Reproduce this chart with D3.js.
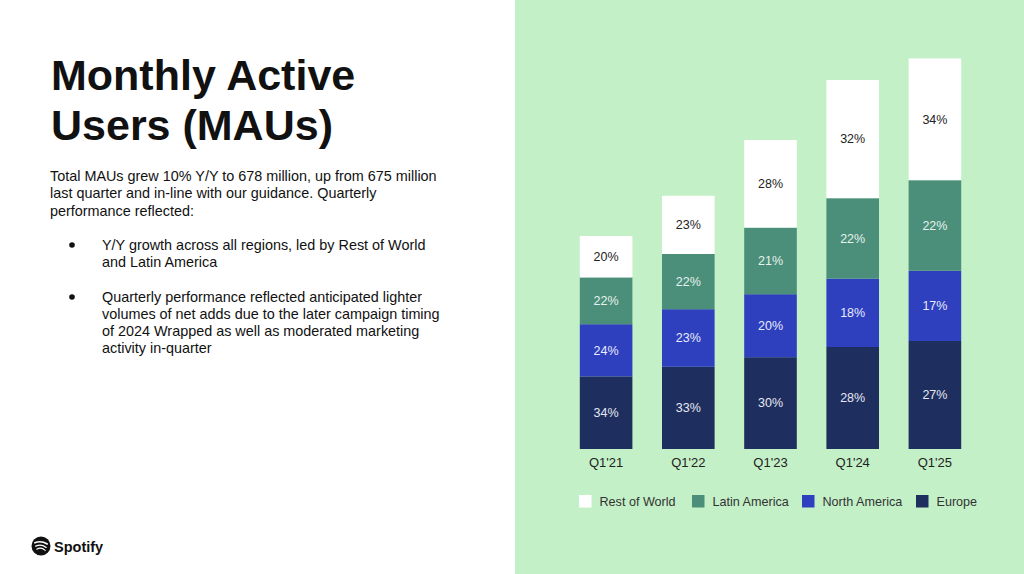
<!DOCTYPE html>
<html>
<head>
<meta charset="utf-8">
<script src="https://cdn.jsdelivr.net/npm/d3@7"></script>
<style>
  html, body { margin: 0; padding: 0; background: #fff; }
  svg { display: block; font-family: "Liberation Sans", Arial, sans-serif; }
</style>
</head>
<body>
<script>
const w = 1024;
const h = 574;

// * DATA (millions of MAUs per region)
const quarters = ["Q1'21", "Q1'22", "Q1'23", "Q1'24", "Q1'25"];
const regions = ["Rest of World", "Latin America", "North America", "Europe"];
const europe = [121, 137, 153, 170, 180];
const northAmerica = [87, 96, 105, 114, 117];
const latinAmerica = [78, 92, 111, 134, 151];
const restOfWorld = [69, 97, 146, 197, 203];
// percentage labels printed on the segments
const europePct = ["34%", "33%", "30%", "28%", "27%"];
const northAmericaPct = ["24%", "23%", "20%", "18%", "17%"];
const latinAmericaPct = ["22%", "22%", "21%", "22%", "22%"];
const restOfWorldPct = ["20%", "23%", "28%", "32%", "34%"];

const colors = {
	"Rest of World": "#ffffff",
	"Latin America": "#4b8f7b",
	"North America": "#2e40bd",
	"Europe": "#1e2e5f",
};
const labelColors = {
	"Rest of World": "#222222",
	"Latin America": "#e6f2ec",
	"North America": "#e8ebff",
	"Europe": "#e6e9f2",
};

const rows = quarters.map((q, i) => ({
	quarter: q,
	"Europe": europe[i],
	"North America": northAmerica[i],
	"Latin America": latinAmerica[i],
	"Rest of World": restOfWorld[i],
}));
const pct = {
	"Europe": europePct,
	"North America": northAmericaPct,
	"Latin America": latinAmericaPct,
	"Rest of World": restOfWorldPct,
};

const svg = d3.select("body").append("svg").attr("width", w).attr("height", h);

// * PANELS
svg.append("rect").attr("width", w).attr("height", h).attr("fill", "#ffffff");
svg.append("rect").attr("x", 515).attr("y", 0).attr("width", w - 515).attr("height", h).attr("fill", "#c4f0c8");

// * LEFT TEXT
const title = svg.append("text").attr("x", 51).attr("font-size", 43).attr("font-weight", "bold").attr("fill", "#111");
title.append("tspan").attr("x", 51).attr("y", 90).text("Monthly Active");
title.append("tspan").attr("x", 51).attr("y", 140).text("Users (MAUs)");

const intro = [
	"Total MAUs grew 10% Y/Y to 678 million, up from 675 million",
	"last quarter and in-line with our guidance. Quarterly",
	"performance reflected:",
];
svg.append("g").selectAll("text").data(intro).enter().append("text")
	.attr("x", 50).attr("y", (d, i) => 181 + i * 17.3)
	.attr("font-size", 14.4).attr("fill", "#111").text((d) => d);

const bullets = [
	["Y/Y growth across all regions, led by Rest of World", "and Latin America"],
	["Quarterly performance reflected anticipated lighter",
	 "volumes of net adds due to the later campaign timing",
	 "of 2024 Wrapped as well as moderated marketing",
	 "activity in-quarter"],
];
const bulletTop = [250, 302];
bullets.forEach((lines, b) => {
	svg.append("circle").attr("cx", 72).attr("cy", bulletTop[b] - 5).attr("r", 2.8).attr("fill", "#111");
	lines.forEach((line, i) => {
		svg.append("text").attr("x", 102).attr("y", bulletTop[b] + i * 17.1)
			.attr("font-size", 14.4).attr("fill", "#111").text(line);
	});
});

// * SPOTIFY LOGO
const logo = svg.append("g").attr("transform", "translate(41,546)");
logo.append("circle").attr("r", 9.5).attr("fill", "#111");
[[-3.2, 6.2, 1.6], [0.2, 5.2, 1.3], [3.2, 4.2, 1.1]].forEach(([dy, rx, sw]) => {
	logo.append("path")
		.attr("d", `M${-rx},${dy} Q0,${dy - 2.6} ${rx},${dy + 1.2}`)
		.attr("fill", "none").attr("stroke", "#fff").attr("stroke-width", sw).attr("stroke-linecap", "round");
});
svg.append("text").attr("x", 54).attr("y", 551.5).attr("font-size", 14.5).attr("font-weight", "bold")
	.attr("fill", "#111").text("Spotify");

// * SCALES
const xScale = d3.scaleBand().domain(quarters).range([565, 976]).paddingInner(0.36).paddingOuter(0.18);
const yScale = d3.scaleLinear().domain([0, 700]).range([449, 29]);

// * STACK
const stackOrder = ["Europe", "North America", "Latin America", "Rest of World"];
const series = d3.stack().keys(stackOrder)(rows);

const groups = svg.append("g").selectAll("g").data(series).enter().append("g");
groups.selectAll("rect").data((s) => s.map((d) => ({ key: s.key, d }))).enter().append("rect")
	.attr("x", (o) => xScale(o.d.data.quarter))
	.attr("width", xScale.bandwidth())
	.attr("y", (o) => yScale(o.d[1]))
	.attr("height", (o) => yScale(o.d[0]) - yScale(o.d[1]))
	.attr("fill", (o) => colors[o.key]);

groups.selectAll("text").data((s) => s.map((d, i) => ({ key: s.key, d, i }))).enter().append("text")
	.attr("x", (o) => xScale(o.d.data.quarter) + xScale.bandwidth() / 2)
	.attr("y", (o) => (yScale(o.d[0]) + yScale(o.d[1])) / 2)
	.attr("dy", "0.35em")
	.attr("text-anchor", "middle")
	.attr("font-size", 12.5)
	.attr("fill", (o) => labelColors[o.key])
	.text((o) => pct[o.key][o.i]);

// * X AXIS
const xAxis = d3.axisBottom(xScale).tickSize(0).tickPadding(9);
const gx = svg.append("g").attr("transform", "translate(0,449)").call(xAxis);
gx.select(".domain").remove();
gx.selectAll("text").attr("font-size", 13).attr("fill", "#222").attr("font-family", "Liberation Sans, Arial, sans-serif");

// * LEGEND
const legendX = [579, 692, 802, 916];
const legend = svg.append("g").selectAll("g").data(regions).enter().append("g")
	.attr("transform", (d, i) => "translate(" + legendX[i] + ",495)");
legend.append("rect").attr("width", 12.5).attr("height", 12.5).attr("fill", (d) => colors[d]);
legend.append("text").attr("x", 20.5).attr("y", 6.5).attr("dy", "0.35em")
	.attr("font-size", 12.6).attr("fill", "#333").text((d) => d);
</script>
</body>
</html>
